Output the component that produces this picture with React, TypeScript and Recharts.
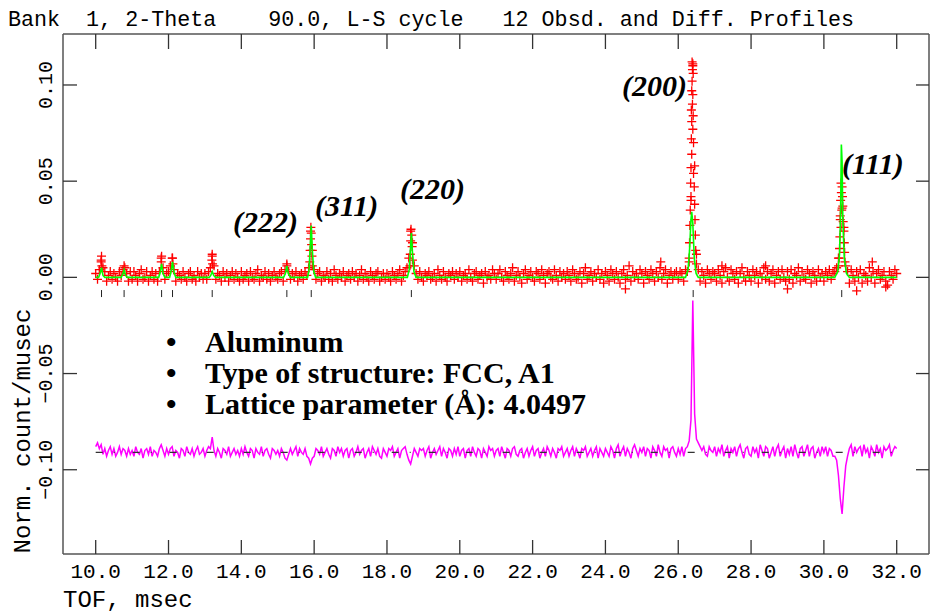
import React from 'react';
import { ComposedChart, XAxis, YAxis, Scatter, Line } from 'recharts';

// TOF grid of the observed / difference profiles (msec)
const TOF_START = 10.0;
const TOF_STEP = 0.05;

// observed intensity on the grid, in 1e-3 counts/musec (one row = 1 msec)
const obsMilli = [
  2, -1, 4, 9, 5, 3, -2, 1, 3, -1, 2, 0, -2, 3, 1, 4, 5, 2, -2, 3,
  -1, 3, 1, -2, 2, 4, -1, 0, 3, -2, 1, 3, -1, 2, -2, 3, 10, 5, -1, 2,
  3, 6, 10, 4, -2, 2, 1, -1, 3, 0, -2, 2, 3, -1, 1, -2, 3, 0, 2, -1,
  2, -1, 3, 5, 11, 6, -1, 2, 1, -2, 3, 0, 2, -2, 1, 3, -1, 2, 0, -2,
  3, -1, 1, 2, -2, 3, 0, -1, 2, 4, -2, 1, 0, 3, -1, 2, -2, 1, 3, 0,
  -1, 2, 3, -2, 4, 7, 3, -1, 2, 0, 3, -2, 1, 2, -1, 3, 1, 5, 24, 14,
  4, -1, 2, 3, -2, 1, 0, 3, -1, 2, -2, 4, 1, -1, 2, 0, 3, -2, 1, 2,
  -1, 3, 0, 2, -2, 1, 4, -1, 2, 0, -2, 3, 1, -1, 2, 3, -2, 0, 2, -1,
  2, 0, -2, 3, 1, -1, 2, 4, -2, 1, 3, 5, 10, 24, 18, 6, 2, -1, 3, 0,
  -2, 2, 1, 3, -1, 0, 2, -2, 4, 1, -1, 3, 0, -2, 2, 1, 3, -1, 2, 0,
  3, -2, 1, 2, -1, 4, 0, -2, 2, 3, -1, 1, 2, -3, 3, 0, 1, -1, 4, 2,
  -1, 2, 4, 0, -2, 3, 1, -1, 2, 5, -2, 1, 3, 0, -3, 2, 4, -1, 1, 3,
  0, -2, 3, 2, -1, 4, 1, -3, 2, 3, 0, -1, 4, 1, -2, 3, 0, 2, -1, 3,
  1, -2, 4, 2, -1, 0, 3, -3, 2, 5, -1, 1, 3, -2, 2, 0, 4, -1, 2, -3,
  3, 1, -2, 4, 2, -1, 3, 0, -3, 2, 4, -1, 1, 6, -2, 3, 0, 2, -1, 4,
  2, -3, 3, 1, -1, 4, 2, -2, 3, 0, 5, -1, 2, 4, -3, 1, 3, -1, 2, 3,
  -1, 3, 2, -2, 4, 3, 8, 40, 111, 58, 12, 4, -2, 3, 1, -3, 4, 2, -1, 3,
  2, -2, 4, 1, -3, 3, 5, 0, -2, 4, 2, -1, 3, -3, 2, 5, 0, -2, 3, 1,
  -2, 4, 1, 3, -3, 2, 0, 5, -1, 3, -2, 2, 4, -3, 1, 3, -1, 4, 0, -2,
  3, -1, 4, -3, 2, 1, 5, -2, 3, 0, -1, 4, 2, -3, 3, 1, -2, 4, 0, 2,
  -2, 3, 1, 4, -1, 2, 3, 5, 10, 30, 36, 26, 6, 3, -3, 4, 1, -2, 3, 0,
  4, -3, 2, 1, -2, 5, 0, 3, -3, 2, 4, -1, 1, 3, -2, -4, 3, 1, -1, 4,
  2,
];

// extra observed points on the peaks (finer binning) and a few outliers: [tof, 1e-3]
const obsExtraMilli: [number, number][] = [
  [10.16, 11], [10.15, 8], [10.17, 6], [10.78, 6], [11.81, 11], [11.8, 8],
  [12.11, 10], [12.12, 7], [13.2, 12], [13.19, 9], [13.21, 7], [15.25, 6],
  [15.91, 26], [15.92, 23], [15.9, 20], [15.93, 17], [15.89, 14], [15.94, 11], [15.88, 8], [15.95, 6],
  [18.66, 25], [18.68, 22], [18.65, 19], [18.69, 16], [18.64, 12], [18.7, 9], [18.63, 6],
  [26.38, 112], [26.4, 110], [26.39, 108], [26.41, 106], [26.38, 102], [26.37, 97], [26.4, 95],
  [26.39, 90], [26.36, 87], [26.41, 84], [26.37, 81], [26.4, 77], [26.36, 72], [26.42, 70],
  [26.37, 64], [26.35, 57], [26.42, 54], [26.34, 49], [26.44, 47], [26.35, 42], [26.45, 38],
  [26.33, 35], [26.46, 30], [26.32, 27], [26.47, 22], [26.31, 18], [26.48, 14], [26.3, 10], [26.5, 7],
  [30.47, 49], [30.5, 47], [30.48, 44], [30.51, 42], [30.46, 40], [30.52, 37], [30.49, 35],
  [30.45, 32], [30.53, 29], [30.47, 26], [30.55, 24], [30.44, 21], [30.56, 18], [30.43, 15],
  [30.57, 13], [30.42, 10], [30.58, 8], [30.4, 6],
  [25.52, 8], [31.33, 8], [27.2, 6], [24.55, -6], [29.0, -6], [30.9, -7], [28.4, 6], [31.7, -5],
];

// calculated profile: [tof, 1e-3]
const calcMilli: [number, number][] = [
  [10.0, 0], [10.08, 0], [10.12, 2], [10.16, 5], [10.2, 1], [10.25, 0],
  [10.7, 0], [10.74, 1.5], [10.78, 4], [10.82, 1], [10.87, 0],
  [11.73, 0], [11.77, 2.5], [11.81, 7], [11.85, 2], [11.9, 0],
  [12.03, 0], [12.07, 3], [12.11, 8], [12.15, 2.5], [12.2, 0],
  [13.12, 0], [13.16, 1], [13.2, 3], [13.24, 1], [13.29, 0],
  [15.16, 0], [15.21, 2], [15.25, 6], [15.29, 2], [15.35, 0],
  [15.82, 0], [15.86, 4], [15.89, 15], [15.92, 27], [15.95, 14], [15.99, 3], [16.04, 0],
  [18.56, 0], [18.61, 4], [18.64, 13], [18.67, 23], [18.7, 13], [18.74, 3], [18.8, 0],
  [26.2, 0], [26.27, 4], [26.31, 14], [26.35, 30], [26.37, 34], [26.4, 28], [26.44, 10], [26.49, 2], [26.55, 0],
  [30.3, 0], [30.38, 3], [30.43, 12], [30.46, 35], [30.48, 69], [30.5, 60], [30.52, 30], [30.56, 10], [30.62, 2], [30.7, 0],
  [32.0, 0],
];

// obs - calc on the grid, in 1e-3, plotted around DIFF_OFFSET
const DIFF_OFFSET = -0.091;
const diffMilli = [
  3, 5, 2, 4, -1, 2, -2, 1, 3, -1, 2, -2, 0, 3, -1, 2, 1, -2, 2, -1,
  1, -2, 3, 0, -1, 2, -3, 1, 2, -1, 3, -2, 1, 0, -2, 2, 4, 1, -2, 2,
  -1, 2, 3, -2, 1, 0, -3, 2, 1, -2, 3, 0, -1, 2, -2, 1, 3, -1, 0, 2,
  -2, 1, 3, 2, 8, 1, -2, 2, 0, -3, 2, 1, -1, 3, -2, 0, 2, -1, 1, -2,
  2, -1, 3, 0, -2, 2, 1, -3, 2, 0, -1, 3, -2, 1, 2, -1, -3, 2, 1, -1,
  1, -2, 2, 0, -3, -4, -1, 2, -1, 1, 3, -2, 2, 0, -1, 2, -2, -3, -6, -3,
  -2, 2, 1, -1, 3, -2, 0, 2, -1, -3, 2, 1, -2, 3, 0, 2, -2, 1, 2, -3,
  1, 2, -2, 0, 3, -1, 1, 2, -3, 0, 2, -2, 3, 1, -1, 2, -2, -3, 2, 0,
  -2, 2, 1, 3, -2, 0, 2, -3, 1, 2, 3, -1, -4, -6, -2, 2, 0, -2, 2, 1,
  2, -2, 1, 3, -3, 0, 2, -1, 1, 3, -2, 2, 0, -3, 2, 1, -2, 2, -1, 3,
  -2, 1, 2, -3, 1, 2, -2, 3, 0, -2, 2, 1, -3, 2, 0, -2, 3, 1, 2, -2,
  1, 2, -2, 3, 0, -3, 2, 1, -2, 2, 3, -1, -2, 1, 2, -3, 0, 2, -2, 1,
  3, -2, 1, 2, -3, 0, 2, -2, 3, 1, -2, 2, 0, -3, 2, 1, 3, -2, 0, 2,
  -2, 1, 3, -2, 2, 0, -3, 2, 1, 3, -2, 0, 2, -2, 1, 3, -3, 2, 0, -2,
  2, 0, -2, 3, 1, -3, 2, 4, -2, 1, 3, -2, 2, 0, -3, 2, 4, 1, -2, 2,
  0, 3, -2, 2, 1, -3, 3, 1, -2, 4, 0, -2, 3, 1, 2, -3, 2, 3, 0, -2,
  2, -1, 3, -2, 2, 3, 6, 17, 79, 20, 7, 5, 3, 1, 3, -1, -2, 3, 1, 0,
  3, -2, 2, 0, 4, -2, 1, 3, -3, 2, 0, 3, -2, 2, 4, 0, -3, 2, 3, -1,
  -2, 3, 0, 2, -3, 4, 1, -2, 3, 2, -3, 0, 3, -2, 2, 4, -2, 1, 3, -3,
  2, -1, 3, -2, 4, 0, -3, 2, 3, -2, 1, 4, -2, 2, 3, -3, 0, 2, -2, 3,
  0, 3, -2, 2, 1, -2, -2, -4, -12, -24, -32, -18, -7, -2, 2, 4, -2, 3, 0, 2,
  3, -2, 4, 0, 2, -3, 3, 1, -2, 4, 0, 2, -3, 3, 1, 2, 4, -2, 1, 3,
  2,
];

// Al reflection positions (511 422 420 331 400 222 311 220 200 111)
const reflections = [10.16, 10.78, 11.81, 12.11, 13.2, 15.25, 15.92, 18.67, 26.41, 30.49];
const REFL_Y = -0.0066;

const xTicks = [10, 12, 14, 16, 18, 20, 22, 24, 26, 28, 30, 32];
const yTicks = [-0.1, -0.05, 0, 0.05, 0.1];
const X_DOMAIN = [9.102, 32.887];
const Y_DOMAIN = [-0.1438, 0.1265];

const peakLabels = [
  { text: '(222)', x: 233, y: 232 },
  { text: '(311)', x: 315, y: 216 },
  { text: '(220)', x: 400, y: 199 },
  { text: '(200)', x: 622, y: 96 },
  { text: '(111)', x: 842, y: 174 },
];
const bullets = ['Aluminum', 'Type of structure: FCC, A1', 'Lattice parameter (Å): 4.0497'];

const obsRows = [
  ...obsMilli.map((v, i) => ({ tof: TOF_START + i * TOF_STEP, v: v / 1000 })),
  ...obsExtraMilli.map(([t, v]) => ({ tof: t, v: v / 1000 })),
];
const calcRows = calcMilli.map(([t, v]) => ({ tof: t, v: v / 1000 }));
const diffRows = diffMilli.map((v, i) => ({ tof: TOF_START + i * TOF_STEP, v: DIFF_OFFSET + v / 1000 }));
const reflRows = reflections.map((t) => ({ tof: t, v: REFL_Y }));
const baseRows = [
  { tof: TOF_START, v: DIFF_OFFSET },
  { tof: TOF_START + (diffMilli.length - 1) * TOF_STEP, v: DIFF_OFFSET },
];

const MONO = '"Liberation Mono", monospace';
const SERIF = '"Liberation Serif", "Times New Roman", serif';
const FRAME = '#555';

const Cross = (p: any) => {
  const { cx, cy } = p;
  if (cx == null || cy == null) return null;
  return (
    <path
      d={`M${cx - 4.5},${cy}H${cx + 4.5}M${cx},${cy - 4.5}V${cy + 4.5}`}
      stroke="#ff0000"
      strokeWidth={1.3}
      fill="none"
    />
  );
};

const ReflTick = (p: any) => {
  const { cx, cy } = p;
  if (cx == null || cy == null) return null;
  return <line x1={cx} x2={cx} y1={cy} y2={cy + 7} stroke="#222" strokeWidth={1} />;
};

const BottomTick = ({ x, y, payload }: any) => (
  <g>
    <line x1={x} x2={x} y1={y} y2={y - 14} stroke="#333" strokeWidth={1.3} />
    <text x={x} y={y + 24} textAnchor="middle" fontFamily={MONO} fontSize={21} fill="#000">
      {payload.value.toFixed(1)}
    </text>
  </g>
);

const TopTick = ({ x, y }: any) => (
  <line x1={x} x2={x} y1={y} y2={y + 15} stroke="#333" strokeWidth={1.3} />
);

const LeftTick = ({ x, y, payload }: any) => {
  const v = payload.value;
  const label = (v < 0 ? '\u2212' : '') + Math.abs(v).toFixed(2);
  return (
    <g>
      <line x1={x} x2={x + 14} y1={y} y2={y} stroke="#333" strokeWidth={1.3} />
      <text
        transform={`translate(${x - 11},${y}) rotate(-90)`}
        textAnchor="middle"
        fontFamily={MONO}
        fontSize={20}
        fill="#000"
      >
        {label}
      </text>
    </g>
  );
};

const RightTick = ({ x, y }: any) => (
  <line x1={x - 13} x2={x} y1={y} y2={y} stroke="#333" strokeWidth={1.3} />
);

export default function App() {
  return (
    <div style={{ position: 'absolute', left: 0, top: 0, width: 931, height: 613, background: '#fff' }}>
      <ComposedChart width={931} height={613} margin={{ top: 0, right: 0, bottom: 0, left: 0 }}>
        <XAxis
          xAxisId="b"
          type="number"
          dataKey="tof"
          domain={X_DOMAIN}
          allowDataOverflow
          ticks={xTicks}
          interval={0}
          orientation="bottom"
          height={59}
          tickSize={0}
          tickMargin={0}
          tick={BottomTick}
          axisLine={{ stroke: FRAME, strokeWidth: 1.5 }}
        />
        <XAxis
          xAxisId="t"
          type="number"
          dataKey="tof"
          domain={X_DOMAIN}
          allowDataOverflow
          ticks={xTicks}
          interval={0}
          orientation="top"
          height={34}
          tickSize={0}
          tickMargin={0}
          tick={TopTick}
          axisLine={{ stroke: FRAME, strokeWidth: 1.5 }}
        />
        <YAxis
          yAxisId="l"
          type="number"
          domain={Y_DOMAIN}
          allowDataOverflow
          ticks={yTicks}
          interval={0}
          width={63}
          tickSize={0}
          tickMargin={0}
          tick={LeftTick}
          axisLine={{ stroke: FRAME, strokeWidth: 1.5 }}
        />
        <YAxis
          yAxisId="r"
          type="number"
          orientation="right"
          domain={Y_DOMAIN}
          allowDataOverflow
          ticks={yTicks}
          interval={0}
          width={2}
          tickSize={0}
          tickMargin={0}
          tick={RightTick}
          axisLine={{ stroke: FRAME, strokeWidth: 1.5 }}
        />
        <Scatter
          xAxisId="b"
          yAxisId="l"
          data={obsRows}
          dataKey="v"
          shape={Cross}
          isAnimationActive={false}
          zIndex={600}
        />
        <Line
          xAxisId="b"
          yAxisId="l"
          data={calcRows}
          dataKey="v"
          type="linear"
          stroke="#00ff00"
          strokeWidth={1.6}
          dot={false}
          isAnimationActive={false}
          zIndex={700}
        />
        <Scatter
          xAxisId="b"
          yAxisId="l"
          data={reflRows}
          dataKey="v"
          shape={ReflTick}
          isAnimationActive={false}
          zIndex={710}
        />
        <Line
          xAxisId="b"
          yAxisId="l"
          data={diffRows}
          dataKey="v"
          type="linear"
          stroke="#ff00ff"
          strokeWidth={1.5}
          dot={false}
          isAnimationActive={false}
          zIndex={720}
        />
        <Line
          xAxisId="b"
          yAxisId="l"
          data={baseRows}
          dataKey="v"
          type="linear"
          stroke="#333"
          strokeWidth={1.2}
          strokeDasharray="7 11 1 18"
          dot={false}
          isAnimationActive={false}
          zIndex={730}
        />
      </ComposedChart>
      <svg
        width={931}
        height={613}
        style={{ position: 'absolute', left: 0, top: 0, pointerEvents: 'none' }}
      >
        <text x={8} y={26} fontFamily={MONO} fontSize={21.7} fill="#000" style={{ whiteSpace: 'pre' }}>
          {'Bank  1, 2-Theta    90.0, L-S cycle   12 Obsd. and Diff. Profiles'}
        </text>
        <text x={63} y={607} fontFamily={MONO} fontSize={24} fill="#000">
          TOF, msec
        </text>
        <text
          transform="translate(30,431) rotate(-90)"
          textAnchor="middle"
          fontFamily={MONO}
          fontSize={24}
          fill="#000"
        >
          Norm. count/musec
        </text>
        {peakLabels.map((p) => (
          <text
            key={p.text}
            x={p.x}
            y={p.y}
            fontFamily={SERIF}
            fontWeight="bold"
            fontStyle="italic"
            fontSize={30}
            fill="#000"
          >
            {p.text}
          </text>
        ))}
        {bullets.map((b, i) => (
          <g key={b}>
            <text x={166} y={352 + i * 31} fontFamily={SERIF} fontWeight="bold" fontSize={30} fill="#000">
              {'\u2022'}
            </text>
            <text x={205} y={352 + i * 31} fontFamily={SERIF} fontWeight="bold" fontSize={30} fill="#000">
              {b}
            </text>
          </g>
        ))}
      </svg>
    </div>
  );
}
